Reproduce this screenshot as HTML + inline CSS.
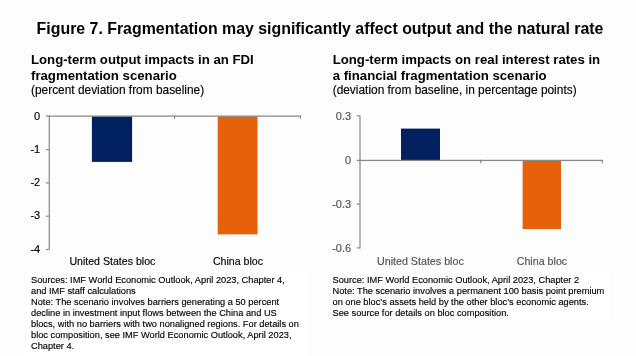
<!DOCTYPE html>
<html><head><meta charset="utf-8"><style>
html,body{margin:0;padding:0;}
body{width:636px;height:356px;position:relative;overflow:hidden;background:#fdfdfd;font-family:"Liberation Sans",sans-serif;}
.t{position:absolute;white-space:nowrap;line-height:1;}
.r{-webkit-text-stroke:0.15px currentColor;}
body > .wrap{position:absolute;left:0;top:0;width:636px;height:356px;will-change:transform;}
</style></head><body>
<svg width="636" height="356" style="position:absolute;left:0;top:0">
<rect x="26" y="271" width="282" height="85" fill="#ffffff" shape-rendering="crispEdges"/>
<rect x="328" y="271" width="281" height="50" fill="#ffffff" shape-rendering="crispEdges"/>
<rect x="91.9" y="116.4" width="40.2" height="45.5" fill="#002060"/>
<rect x="217.7" y="116.4" width="39.8" height="118" fill="#E5620A"/>
<g fill="#888888">
<rect x="48.7" y="115.5" width="1.2" height="134.3"/>
<rect x="45.9" y="115.5" width="254.9" height="1.25"/>
<rect x="45.9" y="149.0" width="3" height="1.2"/>
<rect x="45.9" y="182.3" width="3" height="1.2"/>
<rect x="45.9" y="215.6" width="3" height="1.2"/>
<rect x="45.9" y="248.9" width="3" height="1.2"/>
<rect x="174.0" y="115.5" width="1.1" height="3.5"/>
<rect x="299.8" y="115.5" width="1.1" height="3.5"/>
</g>
<rect x="401.0" y="128.6" width="39" height="31.8" fill="#002060"/>
<rect x="522.6" y="160.4" width="38.4" height="68.7" fill="#E5620A"/>
<g fill="#888888">
<rect x="359.4" y="115.5" width="1.2" height="132.9"/>
<rect x="356.8" y="115.2" width="3" height="1.2"/>
<rect x="356.8" y="159.8" width="246" height="1.25"/>
<rect x="356.8" y="203.5" width="3" height="1.2"/>
<rect x="356.8" y="247.3" width="3" height="1.2"/>
<rect x="480.2" y="159.8" width="1.1" height="3.5"/>
<rect x="601.7" y="159.8" width="1.1" height="3.5"/>
</g>
</svg>
<div class="wrap">
<div class="t" style="left:36.60px;top:21.14px;font-size:15.9px;font-weight:bold;color:#000;">Figure 7. Fragmentation may significantly affect output and the natural rate</div>
<div class="t" style="left:31.00px;top:52.82px;font-size:13.2px;font-weight:bold;color:#000;">Long-term output impacts in an FDI</div>
<div class="t" style="left:31.00px;top:68.52px;font-size:13.2px;font-weight:bold;color:#000;">fragmentation scenario</div>
<div class="t r" style="left:31.00px;top:85.22px;font-size:11.9px;font-weight:normal;color:#000;">(percent deviation from baseline)</div>
<div class="t" style="left:332.70px;top:52.82px;font-size:13.2px;font-weight:bold;color:#000;">Long-term impacts on real interest rates in</div>
<div class="t" style="left:332.70px;top:68.52px;font-size:13.2px;font-weight:bold;color:#000;">a financial fragmentation scenario</div>
<div class="t r" style="left:332.70px;top:85.22px;font-size:11.9px;font-weight:normal;color:#000;">(deviation from baseline, in percentage points)</div>
<div class="t r" style="right:595.80px;top:110.59px;font-size:11px;font-weight:normal;color:#000;">0</div>
<div class="t r" style="right:595.80px;top:143.89px;font-size:11px;font-weight:normal;color:#000;">-1</div>
<div class="t r" style="right:595.80px;top:177.19px;font-size:11px;font-weight:normal;color:#000;">-2</div>
<div class="t r" style="right:595.80px;top:210.49px;font-size:11px;font-weight:normal;color:#000;">-3</div>
<div class="t r" style="right:595.80px;top:243.79px;font-size:11px;font-weight:normal;color:#000;">-4</div>
<div class="t r" style="left:69.40px;top:256.12px;font-size:10.6px;font-weight:normal;color:#000;">United States bloc</div>
<div class="t r" style="left:212.90px;top:256.12px;font-size:10.6px;font-weight:normal;color:#000;">China bloc</div>
<div class="t r" style="right:284.90px;top:110.59px;font-size:11px;font-weight:normal;color:#505050;">0.3</div>
<div class="t r" style="right:284.90px;top:154.59px;font-size:11px;font-weight:normal;color:#505050;">0</div>
<div class="t r" style="right:284.90px;top:198.59px;font-size:11px;font-weight:normal;color:#505050;">-0.3</div>
<div class="t r" style="right:284.90px;top:242.59px;font-size:11px;font-weight:normal;color:#505050;">-0.6</div>
<div class="t r" style="left:377.00px;top:256.04px;font-size:10.7px;font-weight:normal;color:#505050;">United States bloc</div>
<div class="t r" style="left:516.70px;top:256.04px;font-size:10.7px;font-weight:normal;color:#505050;">China bloc</div>
<div class="t r" style="left:31.00px;top:275.87px;font-size:9.25px;font-weight:normal;color:#000;">Sources: IMF World Economic Outlook, April 2023, Chapter 4,</div>
<div class="t r" style="left:31.00px;top:286.82px;font-size:9.25px;font-weight:normal;color:#000;">and IMF staff calculations</div>
<div class="t r" style="left:31.00px;top:297.77px;font-size:9.25px;font-weight:normal;color:#000;">Note: The scenario involves barriers generating a 50 percent</div>
<div class="t r" style="left:31.00px;top:308.72px;font-size:9.25px;font-weight:normal;color:#000;">decline in investment input flows between the China and US</div>
<div class="t r" style="left:31.00px;top:319.67px;font-size:9.25px;font-weight:normal;color:#000;">blocs, with no barriers with two nonaligned regions. For details on</div>
<div class="t r" style="left:31.00px;top:330.62px;font-size:9.25px;font-weight:normal;color:#000;">bloc composition, see IMF World Economic Outlook, April 2023,</div>
<div class="t r" style="left:31.00px;top:341.57px;font-size:9.25px;font-weight:normal;color:#000;">Chapter 4.</div>
<div class="t r" style="left:332.50px;top:275.87px;font-size:9.25px;font-weight:normal;color:#000;">Source: IMF World Economic Outlook, April 2023, Chapter 2</div>
<div class="t r" style="left:332.50px;top:286.82px;font-size:9.25px;font-weight:normal;color:#000;">Note: The scenario involves a permanent 100 basis point premium</div>
<div class="t r" style="left:332.50px;top:297.77px;font-size:9.25px;font-weight:normal;color:#000;">on one bloc’s assets held by the other bloc’s economic agents.</div>
<div class="t r" style="left:332.50px;top:308.72px;font-size:9.25px;font-weight:normal;color:#000;">See source for details on bloc composition.</div>
</div>
</body></html>
